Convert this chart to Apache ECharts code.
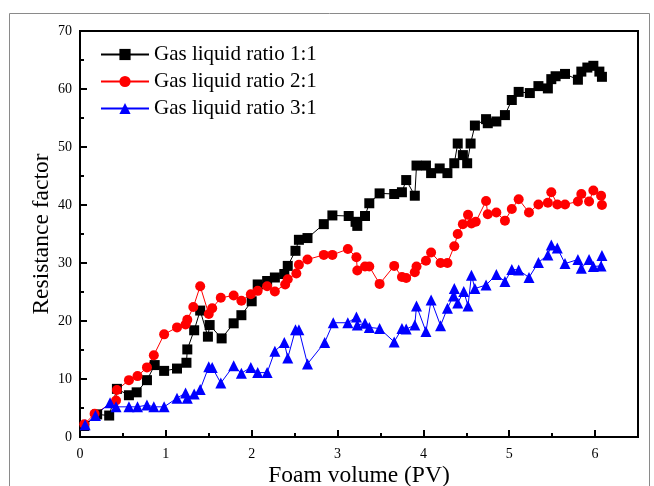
<!DOCTYPE html>
<html>
<head>
<meta charset="utf-8">
<script src="https://cdn.jsdelivr.net/npm/echarts@6/dist/echarts.min.js"></script>
<style>
html,body{margin:0;padding:0;background:#fff;}
#chart{width:654px;height:486px;}
</style>
</head>
<body>
<div id="chart"></div>
<script>
var seriesNames = ['Gas liquid ratio 1:1', 'Gas liquid ratio 2:1', 'Gas liquid ratio 3:1'];
var xTickLabels = ['0', '1', '2', '3', '4', '5', '6'];
var yTickLabels = ['0', '10', '20', '30', '40', '50', '60', '70'];

var x11 = [0.05,0.20,0.34,0.43,0.57,0.66,0.78,0.87,0.98,1.13,1.24,1.25,1.33,1.40,1.49,1.51,1.65,1.79,1.88,2.00,2.07,2.18,2.27,2.38,2.42,2.51,2.55,2.65,2.84,2.94,3.13,3.21,3.23,3.32,3.37,3.49,3.66,3.75,3.80,3.90,3.92,4.03,4.09,4.19,4.28,4.36,4.40,4.46,4.51,4.55,4.60,4.73,4.75,4.85,4.95,5.03,5.11,5.24,5.34,5.45,5.49,5.54,5.65,5.80,5.84,5.91,5.98,6.05,6.08];
var y11 = [1.9,3.9,3.7,8.3,7.2,7.7,9.8,12.4,11.4,11.8,12.8,15.1,18.4,21.8,17.3,19.3,17.0,19.6,21.0,23.4,26.3,26.9,27.5,28.1,29.5,32.1,34.0,34.3,36.7,38.2,38.1,37.1,36.4,38.1,40.3,42.0,41.9,42.2,44.3,41.6,46.8,46.8,45.5,46.3,45.5,47.2,50.6,48.6,47.2,50.6,53.7,54.8,54.1,54.4,55.5,58.1,59.5,59.3,60.5,60.1,61.7,62.2,62.6,61.6,63.0,63.7,64.0,63.0,62.1];

var x21 = [0.05,0.17,0.42,0.43,0.57,0.67,0.78,0.86,0.98,1.13,1.23,1.25,1.32,1.40,1.50,1.54,1.64,1.79,1.88,1.99,2.07,2.18,2.27,2.39,2.42,2.52,2.55,2.65,2.84,2.94,3.12,3.22,3.23,3.32,3.37,3.49,3.66,3.75,3.80,3.90,3.92,4.03,4.09,4.20,4.28,4.36,4.40,4.46,4.52,4.56,4.61,4.73,4.75,4.85,4.95,5.03,5.11,5.23,5.34,5.45,5.49,5.56,5.65,5.80,5.84,5.93,5.98,6.07,6.08];
var y21 = [2.2,4.0,6.3,8.1,9.8,10.5,12.0,14.1,17.7,18.9,19.4,20.2,22.4,26.0,21.2,22.2,24.0,24.4,23.5,24.6,25.2,26.0,25.1,26.3,27.2,28.2,29.7,30.6,31.4,31.4,32.4,31.0,28.7,29.4,29.4,26.4,29.5,27.6,27.4,28.4,29.4,30.4,31.8,30.0,30.0,32.9,35.0,36.7,38.3,36.8,37.1,40.7,38.4,38.7,37.3,39.3,41.0,38.7,40.1,40.4,42.2,40.1,40.1,40.6,41.9,40.6,42.5,41.6,40.0];

var x31 = [0.06,0.18,0.35,0.42,0.57,0.67,0.78,0.86,0.98,1.13,1.23,1.25,1.33,1.40,1.50,1.54,1.64,1.79,1.88,1.99,2.07,2.18,2.27,2.38,2.42,2.51,2.55,2.65,2.85,2.95,3.12,3.22,3.23,3.32,3.37,3.49,3.66,3.75,3.80,3.90,3.92,4.03,4.09,4.20,4.28,4.35,4.36,4.40,4.47,4.52,4.56,4.60,4.73,4.85,4.95,5.03,5.11,5.23,5.34,5.45,5.49,5.56,5.65,5.80,5.84,5.93,5.98,6.07,6.08];
var y31 = [2.1,3.7,5.9,5.2,5.2,5.2,5.5,5.2,5.2,6.7,7.6,6.7,7.4,8.2,12.1,12.0,9.3,12.3,11.0,12.0,11.1,11.1,14.8,16.3,13.6,18.5,18.5,12.6,16.3,19.7,19.7,20.7,19.3,19.6,18.9,18.7,16.4,18.7,18.6,19.3,22.6,18.2,23.6,19.2,22.2,24.3,25.6,23.1,25.1,22.6,27.9,25.6,26.2,28.0,26.8,28.9,28.8,27.5,30.1,31.4,33.1,32.6,29.9,30.6,29.1,30.6,29.4,29.5,31.3];

function pairs(xs, ys) { return xs.map(function (x, i) { return [x, ys[i]]; }); }

var FONT = '"Liberation Serif", "Times New Roman", serif';
var chart = echarts.init(document.getElementById('chart'), null, {renderer: 'canvas'});

var option = {
  animation: false,
  backgroundColor: '#fff',
  graphic: [{
    type: 'rect', silent: true, z: -10,
    shape: {x: 9.5, y: 13.5, width: 640, height: 490},
    style: {fill: 'none', stroke: '#8a8a8a', lineWidth: 1}
  }],
  grid: {left: 80, right: 16, top: 31, bottom: 49, show: true, borderColor: '#000', borderWidth: 2,
    backgroundColor: 'transparent', containLabel: false, outerBoundsMode: 'none'},
  legend: {
    orient: 'vertical', left: 95, top: 39, itemWidth: 48, itemHeight: 14, itemGap: 6,
    textStyle: {fontFamily: FONT, fontSize: 21, color: '#000'},
    data: seriesNames
  },
  xAxis: [{
    type: 'value', min: 0, max: 6.5, interval: 0.5,
    name: 'Foam volume (PV)', nameLocation: 'middle', nameGap: 27, nameMoveOverlap: false,
    nameTextStyle: {fontFamily: FONT, fontSize: 23.5, color: '#000'},
    axisLine: {show: true, lineStyle: {color: '#000', width: 2}},
    axisTick: {show: true, inside: true, length: 4, lineStyle: {color: '#000', width: 2}},
    axisLabel: {
      margin: 10, fontFamily: FONT, fontSize: 14, color: '#000', showMaxLabel: false,
      formatter: function (v) { var i = xTickLabels.indexOf(String(v)); return i >= 0 ? xTickLabels[i] : ''; }
    },
    splitLine: {show: false}
  }, {
    type: 'value', min: 0, max: 6.5, interval: 1, position: 'bottom',
    axisLine: {show: false},
    axisTick: {show: true, inside: true, length: 7, lineStyle: {color: '#000', width: 2}},
    axisLabel: {show: false},
    splitLine: {show: false}
  }],
  yAxis: {
    type: 'value', min: 0, max: 70, interval: 10,
    name: 'Resistance factor', nameLocation: 'middle', nameGap: 26, nameMoveOverlap: false,
    nameTextStyle: {fontFamily: FONT, fontSize: 23.5, color: '#000'},
    axisLine: {show: true, lineStyle: {color: '#000', width: 2}},
    axisTick: {show: true, inside: true, length: 7, lineStyle: {color: '#000', width: 2}},
    minorTick: {show: true, splitNumber: 2, length: 4, lineStyle: {color: '#000', width: 2}},
    axisLabel: {margin: 8, fontFamily: FONT, fontSize: 14, color: '#000',
      formatter: function (v) { var s = String(v); return yTickLabels.indexOf(s) >= 0 ? s : ''; }},
    splitLine: {show: false}
  },
  series: [{
    name: seriesNames[0], type: 'line', data: pairs(x11, y11),
    symbol: 'rect', symbolSize: 10, color: '#000',
    lineStyle: {color: '#000', width: 1}, itemStyle: {color: '#000'}
  }, {
    name: seriesNames[1], type: 'line', data: pairs(x21, y21),
    symbol: 'circle', symbolSize: 10, color: '#ff0000',
    lineStyle: {color: '#ff0000', width: 1}, itemStyle: {color: '#ff0000'}
  }, {
    name: seriesNames[2], type: 'line', data: pairs(x31, y31),
    symbol: 'triangle', symbolSize: 11, color: '#0000ff',
    lineStyle: {color: '#0000ff', width: 1}, itemStyle: {color: '#0000ff'}
  }]
};
chart.setOption(option);
</script>
</body>
</html>
